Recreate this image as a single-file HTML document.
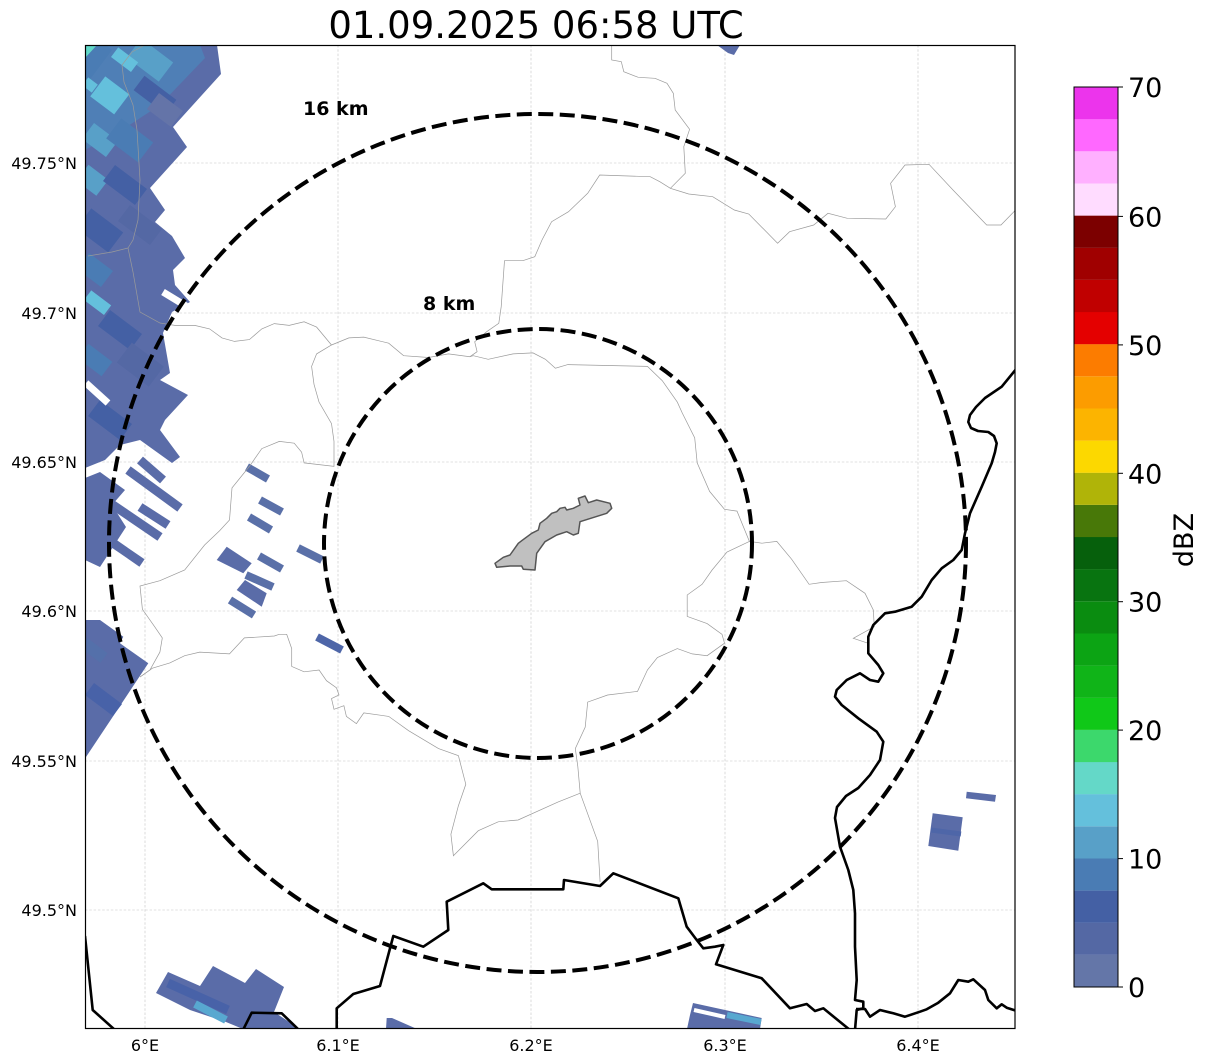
<!DOCTYPE html>
<html><head><meta charset="utf-8"><style>
html,body{margin:0;padding:0;background:#fff;}
svg{display:block;font-family:"DejaVu Sans","Liberation Sans",sans-serif;}
</style></head><body>
<svg width="1207" height="1064" viewBox="0 0 1207 1064" xmlns="http://www.w3.org/2000/svg">
<rect width="1207" height="1064" fill="#fff"/>
<text x="536" y="38" font-size="37" text-anchor="middle" fill="#000">01.09.2025 06:58 UTC</text>
<defs><clipPath id="mc"><rect x="85" y="45" width="930" height="983"/></clipPath></defs>
<g clip-path="url(#mc)">
<!-- gridlines -->
<g stroke="#c4c4c4" stroke-width="0.6" stroke-dasharray="2.5,1.8">
<line x1="145" y1="45" x2="145" y2="1028"/><line x1="338" y1="45" x2="338" y2="1028"/><line x1="531" y1="45" x2="531" y2="1028"/><line x1="725" y1="45" x2="725" y2="1028"/><line x1="918" y1="45" x2="918" y2="1028"/>
<line x1="85" y1="163" x2="1015" y2="163"/><line x1="85" y1="313" x2="1015" y2="313"/><line x1="85" y1="462" x2="1015" y2="462"/><line x1="85" y1="611" x2="1015" y2="611"/><line x1="85" y1="761" x2="1015" y2="761"/><line x1="85" y1="910" x2="1015" y2="910"/>
</g>
<!-- rain -->
<g>
<polygon fill="#5a6ca8" points="85,45 217,45 221,74 173,127 187,147 150,188 165,210 155,222 172,236 185,258 173,270 175,285 190,302 172,312 163,333 170,373 160,380 188,395 165,420 160,430 180,457 172,463 140,440 120,445 105,460 85,468"/>
<polygon fill="#4f7fb6" points="85,45 200,45 205,58 160,105 125,128 85,150"/>
<rect x="130" y="48" width="40" height="24" fill="#58a0c8" transform="rotate(37 150 60)"/>
<rect x="95" y="83" width="30" height="25" fill="#64c0dc" transform="rotate(37 110 95)"/>
<rect x="135" y="86" width="40" height="18" fill="#4460a4" transform="rotate(37 155 95)"/>
<rect x="82" y="40" width="20" height="40" fill="#4a7cb4" transform="rotate(37 92 60)"/>
<rect x="85" y="130" width="30" height="20" fill="#58a0c8" transform="rotate(37 100 140)"/>
<rect x="110" y="128" width="40" height="25" fill="#4a7cb4" transform="rotate(37 130 140)"/>
<rect x="80" y="170" width="25" height="20" fill="#58a0c8" transform="rotate(37 92 180)"/>
<rect x="105" y="175" width="40" height="20" fill="#4460a4" transform="rotate(37 125 185)"/>
<rect x="80" y="218" width="40" height="25" fill="#4460a4" transform="rotate(37 100 230)"/>
<rect x="120" y="215" width="40" height="20" fill="#5468a4" transform="rotate(37 140 225)"/>
<rect x="80" y="260" width="30" height="20" fill="#4a7cb4" transform="rotate(37 95 270)"/>
<rect x="85" y="297" width="25" height="12" fill="#64c0dc" transform="rotate(37 98 303)"/>
<rect x="100" y="320" width="40" height="20" fill="#4460a4" transform="rotate(37 120 330)"/>
<rect x="80" y="351" width="30" height="18" fill="#4a7cb4" transform="rotate(37 95 360)"/>
<rect x="120" y="352" width="40" height="25" fill="#5468a4" transform="rotate(37 140 365)"/>
<rect x="84" y="80" width="12" height="10" fill="#64c0dc" transform="rotate(37 90 85)"/>
<polygon fill="#60d8c8" points="85,45 97,45 85,58"/>
<rect x="112" y="54" width="25" height="12" fill="#64c0dc" transform="rotate(37 125 60)"/>
<rect x="150" y="100" width="30" height="20" fill="#6474a8" transform="rotate(37 165 110)"/>
<rect x="90" y="410" width="40" height="20" fill="#4460a4" transform="rotate(37 110 420)"/>
<!-- white gaps -->
<g stroke="#fff" stroke-width="7">
<line x1="86" y1="383" x2="108" y2="403"/><line x1="163" y1="292" x2="186" y2="306"/>
</g>
<polygon fill="#5a6ca8" points="85,478 100,472 125,490 112,505 126,527 100,567 85,560"/>
<g stroke="#5a6ca8" stroke-width="9">
<line x1="140" y1="460" x2="163" y2="480"/><line x1="128" y1="470" x2="180" y2="508"/>
<line x1="140" y1="507" x2="168" y2="525"/><line x1="110" y1="503" x2="160" y2="537"/>
<line x1="113" y1="543" x2="142" y2="563"/>
</g>
<g stroke="#5a70a8" stroke-width="8">
<line x1="247" y1="467" x2="268" y2="479"/><line x1="260" y1="500" x2="282" y2="512"/>
<line x1="249" y1="517" x2="271" y2="530"/><line x1="298" y1="548" x2="322" y2="560"/>
<line x1="259" y1="556" x2="282" y2="569"/><line x1="230" y1="600" x2="254" y2="615"/>
<line x1="246" y1="575" x2="273" y2="587"/>
</g>
<line x1="317" y1="637" x2="342" y2="650" stroke="#4e66a8" stroke-width="8"/>
<polygon fill="#5a6ca8" points="216.7,560 226.7,546.7 251.7,563.3 243.3,573.3"/>
<polygon fill="#5a6ca8" points="236.7,590 245,580 266.7,593.3 261.7,606.7"/>
<polygon fill="#5a6ca8" points="85,620 100,620 123.3,636.7 120,643.3 148.3,663.3 86,757 85,757"/>
<rect x="85" y="690" width="35" height="15" fill="#4862a8" transform="rotate(37 100 700)"/>
<rect x="82" y="645" width="25" height="12" fill="#5470aa" transform="rotate(37 95 650)"/>
<!-- bottom patches -->
<polygon fill="#5a6ca8" points="156,993 168,972 200,986 213,966 245,983 256,969 284,987 274,1012 300,1029 243,1029 226,1022 190,1010"/>
<line x1="168" y1="983" x2="228" y2="1010" stroke="#4862a8" stroke-width="9"/>
<line x1="195" y1="1004" x2="226" y2="1020" stroke="#58a8d0" stroke-width="8"/>
<polygon fill="#5a6ca8" points="386.7,1018 392,1018 417,1029 386,1029"/>
<polygon fill="#5a6ca8" points="693,1003 761.7,1018 760,1029 687,1029 690,1015"/>
<line x1="694" y1="1010" x2="725" y2="1017" stroke="#fff" stroke-width="4"/>
<line x1="727" y1="1015" x2="761" y2="1022" stroke="#58a8d0" stroke-width="6"/>
<polygon fill="#5a6ca8" points="966.7,791.7 996,795 995,801.7 966,798.3"/>
<polygon fill="#5a6ca8" points="932.7,813.3 962.7,817.3 958.3,850.7 928.3,846"/>
<line x1="931" y1="830" x2="961" y2="834" stroke="#4e66a8" stroke-width="5"/>
<polygon fill="#5a6ca8" points="717,45 740,45 734,55 728,53"/>
</g>
<!-- admin lines -->
<g fill="none" stroke="#9a9a9a" stroke-width="0.7">
<polyline points="611.7,45 611.7,60 621.3,61.7 623.8,71.7 638.2,77.3 655,78.3 667,83.3 673.3,93.3 675.2,110 689.6,129.3 683.8,146.7 685.3,173.3 670.4,188.3 688.7,194 712.7,196.7 734.3,210 748.8,214 777.6,243.3 789.6,231.7 813.7,225 828,213.3 847.3,218.3 885.8,219 895.4,206.7 890.6,183.3 905,165 929,164.3 953,190 986.7,225 1001,225 1015.6,210"/>
<polyline points="670.4,188.3 659.8,181.7 650.2,176.7 599.7,175 587.7,193.3 568.5,211.7 551.6,221.7 542,240 534.8,256.7 522.8,260.7 504.5,260.7 501.2,306.7 498.8,323.3 486.7,331.7 474.7,341.7 477.1,351.7 469.9,356.7 448.4,353.9 428.5,357.5 403.6,355.7 388.7,343.2 363.8,337.1 348.9,337.9 331.5,345 316.6,353.9 311.6,366.4 314,384.3 319,402 331.5,423.6 334,441.4 334,466.4 304.1,462.9 301.6,452.1 294.2,443.2 279.3,441.4 261.8,448.6 249.4,466.4 232,487.9 229.5,520 219.6,530.7 204.6,545 184.7,570 159.9,580.7 140,586 142.4,609.3 154.9,627.1 162.3,637.9 159.9,652.1 149.9,670 140,677"/>
<polyline points="331.5,345 316.6,327.1 304.1,321.8 289.2,325.4 274.3,323.6 261.8,328.9 249.4,339.6 234.5,341.4 222,337.9 209.6,328.9 194.7,325.4 174.8,325.4 160,323 140,312 133,272 128,248 112,252 88,256"/>
<polyline points="145,45 132,52 122,65 124,82 133,105 137,130 140,180 138,220 133,240 128,248"/>
<polyline points="469.9,356.7 473.3,355.7 488.2,359.3 513.1,353.9 533,352.9 545.4,359.3 555.4,368.2 567.8,364.6 647.4,366.4 662.3,380.7 677.3,402.1 682.2,412.9 694.7,437.9 697.2,462.9 709.6,491.4 724.5,509.3 737,511.1 749.4,541.4 761.8,543.2 776.8,541.4 791.7,559.3 809.1,584.3 821.6,582.5 846.4,580.7 865,593.3 873.3,610 874.3,626.7 853.3,638.3 868.3,643.3"/>
<polyline points="749.4,541.4 727,552 712.1,570 702.1,584.3 687.2,595 687.2,616.4 707.1,623.6 722,634.3 724.5,643.2 707.1,655.7 692.2,653.9 677.3,648.6 657.4,657.5 647.4,670 637.5,691.4 607.6,695 587.7,702.1 585.2,727.1 575.3,748.6 577.8,766.4 580.2,793.2 597.7,841.4 600.1,882"/>
<polyline points="580.2,793.2 557.9,802.1 518.1,820 498.2,821.8 478.3,830.7 453.4,855.7 450.9,834.3 458.4,805.7 465.8,784.3 458.4,755.7 438.5,748.6 408.6,730.7 388.7,716.4 363.8,712.9 356.4,723.6 346.4,716.4 343.9,705.7 334,709.3 331.5,698.6 339,695 336.5,687.9 326.5,680.7 319.1,670 304.1,671.8 291.7,666.4 291.7,648.6 286.7,634.3 279.3,634.3 274.3,636 244.4,637.9 229.5,653.9 199.7,652.1 184.7,655.7 169.8,662.9 152.4,668.2 140,677"/>
</g>
<!-- city shape -->
<polygon fill="#c0c0c0" stroke="#555" stroke-width="1.5" stroke-linejoin="round" points="495,563.3 503.3,557.3 510,555 518.3,543.3 521.7,540.7 531.7,533.3 538.3,530 540,523.3 546.7,518.3 551.7,513.3 556.7,511.7 560,508.3 565,507.3 566.7,510 573.3,508.3 580,505 578.3,498.3 585,496 588.3,502.7 596.7,500 610,503.3 611.7,508.3 606.7,513.3 580,521.7 578.3,533.3 573.3,535 566.7,531.7 556.7,535 545,541.7 536.7,553.3 535,570 523.3,569.3 521.7,566 510,566 496.7,567.3"/>
<!-- borders -->
<g fill="none" stroke="#000" stroke-width="2.6" stroke-linejoin="round">
<polyline points="1017,368 1001.7,386.7 985,398 976,407 970,415 968.3,422 971,428 978,431 988.3,432 994,436 996.7,443.3 995,452 991.7,463.3 981.7,486.7 970,513.3 965,533.3 961.7,550 953.3,560 941.7,568.3 931.7,580 921.7,596.7 911.7,606.7 895,611.7 885,613.3 873.3,625 868.3,636.7 868.3,653.3 878.3,665 883.3,673.3 878.3,681.7 870,680 860,673.3 846.7,680 836.7,690 835,696.7 841.7,705 858.3,718.3 876.7,731.7 883.3,741.7 880,760 870,775 858.3,788 846,796 837,807 835,818 840,846.7 848.3,870 853.3,890 855,913.3 855,946.7 856.7,980 855,1000 863.3,1001.7 863.3,1008.3 856.7,1010 855,1030"/>
<polyline points="856,1009 865,1009 870,1016.7 880,1010 893.3,1013.3 905,1016.7 920,1011.7 926.7,1009.3 938.3,1002.7 950,993.3 958.3,980 968.3,981.7 973.3,979.3 985,990 988.3,1000 996.7,1008.3 1001.7,1004.3 1006.7,1007.7 1017,1011"/>
<polyline points="336.7,1030 336.7,1008.3 353.3,994 380,986 393.3,936 423.3,946.7 448.3,930 446.7,901.7 483.3,883.3 491.7,889.3 563.3,889.3 564,880 600,886 613.3,873.3 678.3,898.3 686.7,926.7 696.7,940 703.3,948.3 715,946.7 723.3,945 716,964.3 761.7,978.3 790,1008.3 806.7,1004 815,1011 823.3,1008.3 850,1030"/>
<polyline points="243,1030 251.7,1012.7 281.7,1013.3 299,1030"/>
<polyline points="85,936 92.7,1010 115,1030"/>
</g>
<!-- range rings -->
<g fill="none" stroke="#000" stroke-width="4" stroke-dasharray="15,6.5">
<ellipse cx="537.5" cy="543" rx="428.5" ry="429"/>
<ellipse cx="538" cy="543.5" rx="214" ry="214.5"/>
</g>
<text x="303" y="115" font-size="19" font-weight="bold" fill="#000">16 km</text>
<text x="423" y="310" font-size="19" font-weight="bold" fill="#000">8 km</text>
</g>
<rect x="85.5" y="45.5" width="929.5" height="983" fill="none" stroke="#000" stroke-width="1.2"/>
<!-- axis labels -->
<g font-size="16" fill="#000" text-anchor="end">
<text x="77" y="169">49.75°N</text><text x="77" y="319">49.7°N</text><text x="77" y="468">49.65°N</text><text x="77" y="617">49.6°N</text><text x="77" y="767">49.55°N</text><text x="77" y="916">49.5°N</text>
</g>
<g font-size="16" fill="#000" text-anchor="middle">
<text x="145" y="1051">6°E</text><text x="338" y="1051">6.1°E</text><text x="531" y="1051">6.2°E</text><text x="725" y="1051">6.3°E</text><text x="918" y="1051">6.4°E</text>
</g>
<!-- colorbar -->
<g>
<rect x="1074" y="954.9" width="44" height="32.2" fill="#6476a8"/>
<rect x="1074" y="922.7" width="44" height="32.2" fill="#5468a4"/>
<rect x="1074" y="890.6" width="44" height="32.2" fill="#4460a4"/>
<rect x="1074" y="858.4" width="44" height="32.2" fill="#4a7cb4"/>
<rect x="1074" y="826.3" width="44" height="32.2" fill="#58a0c8"/>
<rect x="1074" y="794.1" width="44" height="32.2" fill="#64c0dc"/>
<rect x="1074" y="762" width="44" height="32.2" fill="#64d8c8"/>
<rect x="1074" y="729.9" width="44" height="32.2" fill="#3cd86c"/>
<rect x="1074" y="697.7" width="44" height="32.2" fill="#10c818"/>
<rect x="1074" y="665.6" width="44" height="32.2" fill="#10b418"/>
<rect x="1074" y="633.4" width="44" height="32.2" fill="#0ca414"/>
<rect x="1074" y="601.3" width="44" height="32.2" fill="#0a8c10"/>
<rect x="1074" y="569.1" width="44" height="32.2" fill="#087410"/>
<rect x="1074" y="537" width="44" height="32.2" fill="#06600c"/>
<rect x="1074" y="504.9" width="44" height="32.2" fill="#487808"/>
<rect x="1074" y="472.7" width="44" height="32.2" fill="#b0b408"/>
<rect x="1074" y="440.6" width="44" height="32.2" fill="#fcd800"/>
<rect x="1074" y="408.4" width="44" height="32.2" fill="#fcb400"/>
<rect x="1074" y="376.3" width="44" height="32.2" fill="#fc9c00"/>
<rect x="1074" y="344.1" width="44" height="32.2" fill="#fc7c00"/>
<rect x="1074" y="312" width="44" height="32.2" fill="#e40000"/>
<rect x="1074" y="279.9" width="44" height="32.2" fill="#c00000"/>
<rect x="1074" y="247.7" width="44" height="32.2" fill="#a00000"/>
<rect x="1074" y="215.6" width="44" height="32.2" fill="#7c0000"/>
<rect x="1074" y="183.4" width="44" height="32.2" fill="#ffdcff"/>
<rect x="1074" y="151.3" width="44" height="32.2" fill="#ffb0ff"/>
<rect x="1074" y="119.1" width="44" height="32.2" fill="#ff68ff"/>
<rect x="1074" y="87" width="44" height="32.2" fill="#ec34ec"/>
<rect x="1074" y="87" width="44" height="900" fill="none" stroke="#000" stroke-width="1"/>
<g stroke="#000" stroke-width="1">
<line x1="1118" y1="987" x2="1123" y2="987"/><line x1="1118" y1="858.6" x2="1123" y2="858.6"/><line x1="1118" y1="730.1" x2="1123" y2="730.1"/><line x1="1118" y1="601.7" x2="1123" y2="601.7"/><line x1="1118" y1="473.3" x2="1123" y2="473.3"/><line x1="1118" y1="344.9" x2="1123" y2="344.9"/><line x1="1118" y1="216.4" x2="1123" y2="216.4"/><line x1="1118" y1="87" x2="1123" y2="87"/>
</g>
<g font-size="27" fill="#000">
<text x="1128" y="997">0</text><text x="1128" y="868.6">10</text><text x="1128" y="740.1">20</text><text x="1128" y="611.7">30</text><text x="1128" y="483.3">40</text><text x="1128" y="354.9">50</text><text x="1128" y="226.4">60</text><text x="1128" y="97">70</text>
</g>
<text x="0" y="0" font-size="27" fill="#000" text-anchor="middle" transform="translate(1193 540) rotate(-90)">dBZ</text>
</g>
</svg>
</body></html>
